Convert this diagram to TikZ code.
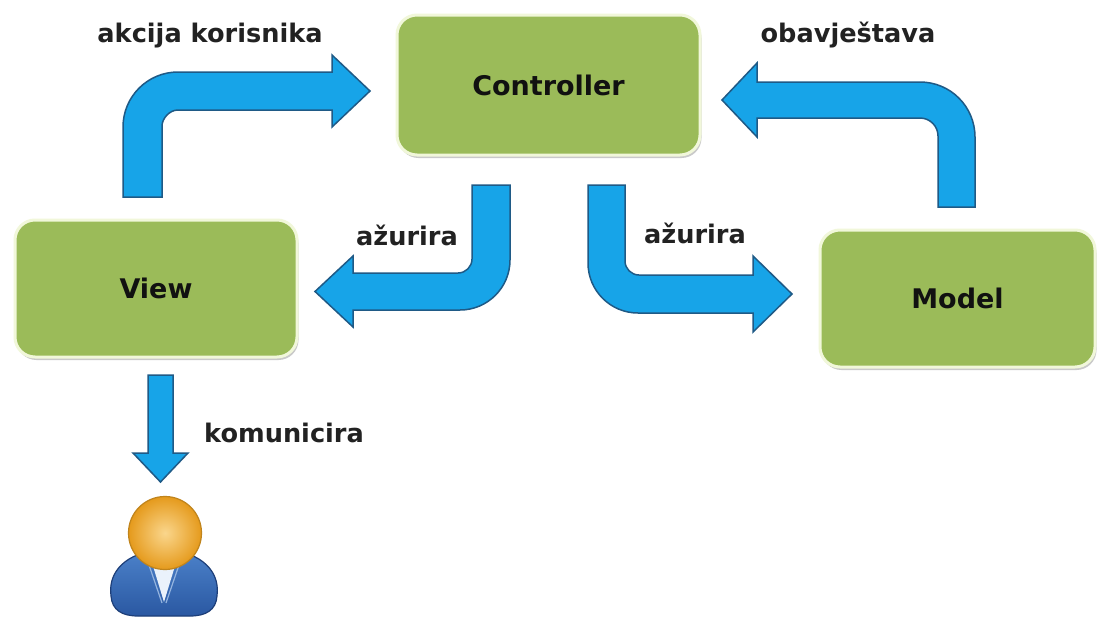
\documentclass[tikz,border=0pt]{standalone}
\usepackage{fontspec}
\setmainfont{DejaVu Sans}
\usetikzlibrary{shadows}
\definecolor{boxgreen}{HTML}{9BBB59}
\definecolor{boxrim}{HTML}{F1F7DA}
\definecolor{arrowblue}{HTML}{17A4E8}
\definecolor{arrowline}{HTML}{1F5A86}
\definecolor{labelgray}{HTML}{222222}
\definecolor{boxtext}{HTML}{111111}
\definecolor{headin}{HTML}{FAD68C}
\definecolor{headout}{HTML}{E59A1C}
\definecolor{headline}{HTML}{C0841C}
\definecolor{bodytop}{HTML}{4C82CA}
\definecolor{bodybot}{HTML}{2A58A2}
\definecolor{bodyline}{HTML}{1D3E78}
\definecolor{collar}{HTML}{EAF2FB}
\tikzset{
  mvcbox/.style={fill=boxgreen, draw=boxrim, line width=3pt, rounded corners=20pt,
    inner sep=0pt, text=boxtext, font=\fontsize{27}{32}\selectfont\bfseries,
    drop shadow={shadow xshift=1.5pt, shadow yshift=-3pt, opacity=0.35, fill=black!60}},
  blockarrow/.style={fill=arrowblue, draw=arrowline, line width=1.5pt, line join=miter},
  lbl/.style={anchor=base, text=labelgray, font=\fontsize{25.6}{30}\selectfont\bfseries}
}
\begin{document}
\begin{tikzpicture}[x=1pt,y=-1pt]
\useasboundingbox (0,0) rectangle (1097,624);
\fill[white] (0,0) rectangle (1097,624);

% boxes
\node[mvcbox, minimum width=303pt, minimum height=140pt] (controller) at (548.5,85) {Controller};
\node[mvcbox, minimum width=282pt, minimum height=137pt] (view) at (156,288.5) {View};
\node[mvcbox, minimum width=275pt, minimum height=137pt] (model) at (957.5,298.5) {Model};

% arrow: View -> Controller
\draw[blockarrow] (123,197) -- (123,127) .. controls (123,96.6) and (147.6,72) .. (178,72)
  -- (332,72) -- (332,55) -- (370,91) -- (332,127) -- (332,110) -- (178,110)
  .. controls (169.2,110) and (162,118.8) .. (162,126) -- (162,197) -- cycle;

% arrow: Model -> Controller
\draw[blockarrow] (975,207) -- (975,137) .. controls (975,106.6) and (950.4,82) .. (920,82)
  -- (757,82) -- (757,63) -- (722,100) -- (757,137) -- (757,118) -- (920,118)
  .. controls (929.9,118) and (938,126.1) .. (938,136) -- (938,207) -- cycle;

% arrow: Controller -> View
\draw[blockarrow] (472,185) -- (510,185) -- (510,260) .. controls (510,287.6) and (487.6,310) .. (460,310)
  -- (353,310) -- (353,327) -- (315,291.5) -- (353,256) -- (353,273) -- (458,273)
  .. controls (465.7,273) and (472,266.7) .. (472,259) -- cycle;

% arrow: Controller -> Model
\draw[blockarrow] (625,185) -- (588,185) -- (588,263) .. controls (588,290.6) and (610.4,313) .. (638,313)
  -- (753,313) -- (753,332) -- (792,294) -- (753,256) -- (753,275) -- (639,275)
  .. controls (631.3,275) and (625,268.7) .. (625,261) -- cycle;

% arrow: View -> user
\draw[blockarrow] (148,375) -- (173,375) -- (173,453) -- (188,453) -- (160.5,482)
  -- (133,453) -- (148,453) -- cycle;

% user icon
\shade[top color=bodytop, bottom color=bodybot, draw=bodyline, line width=1.2pt]
  (111,596) .. controls (107,566) and (135,550) .. (164,550)
  .. controls (193,550) and (221,566) .. (217,596)
  .. controls (216,610) and (206,616) .. (190,616) -- (138,616)
  .. controls (122,616) and (112,610) .. (111,596) -- cycle;
\draw[bodytop!60!white, line width=1.2pt] (149,565) -- (162,603);
\draw[bodytop!60!white, line width=1.2pt] (179,565) -- (166,603);
\fill[collar] (153,566) -- (175,566) -- (164,602) -- cycle;
\node[circle, minimum size=73pt, inner sep=0pt, draw=headline, line width=1.2pt,
  inner color=headin, outer color=headout] (user) at (165,533) {};

% labels
\node[lbl] (lact) at (210,42) {akcija korisnika};
\node[lbl] (lobv) at (848,42) {obavještava};
\node[lbl] (lazl) at (407,245) {ažurira};
\node[lbl] (lazr) at (695,243) {ažurira};
\node[lbl] (lkom) at (284,442) {komunicira};
\end{tikzpicture}
\end{document}
